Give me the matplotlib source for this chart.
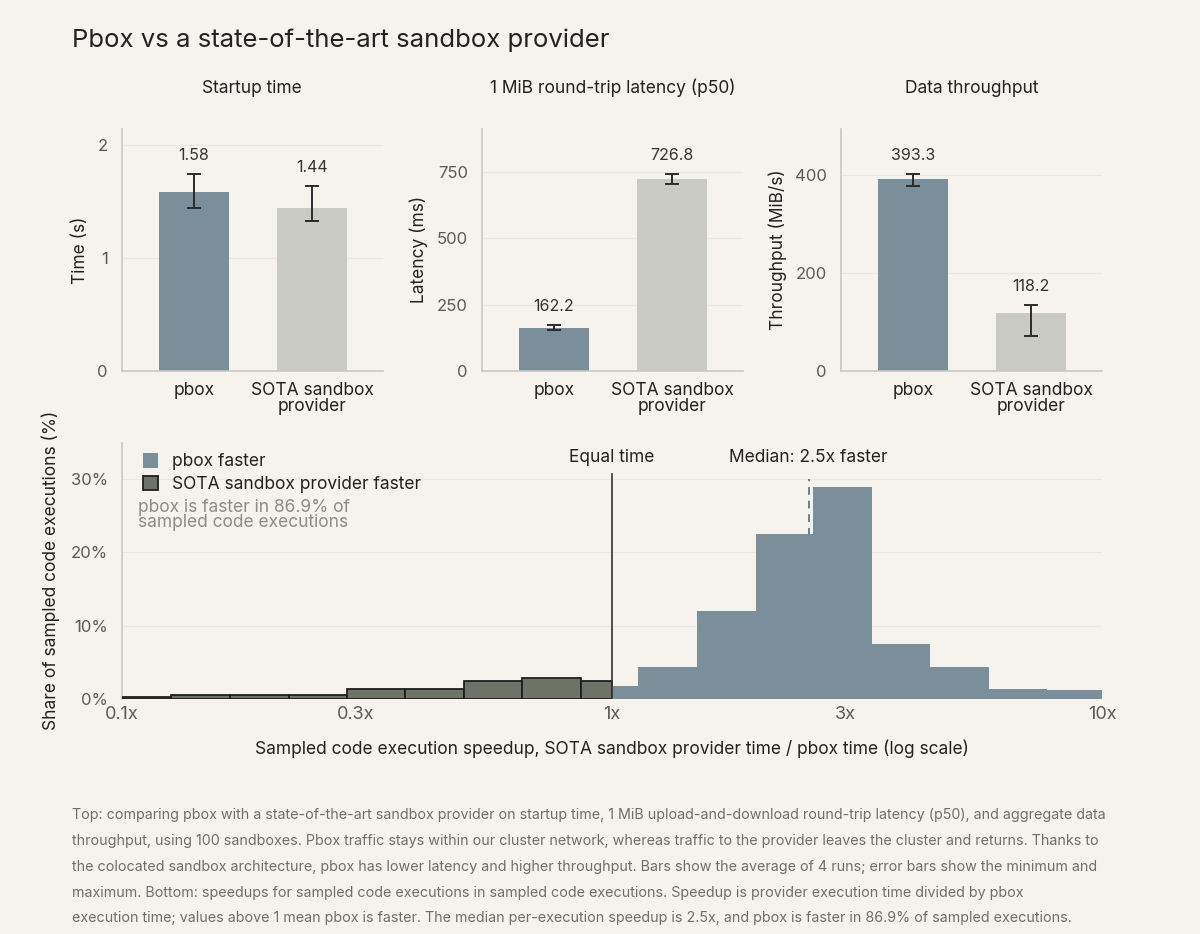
import numpy as np
import matplotlib.pyplot as plt
from matplotlib.patches import Patch

plt.rcParams['font.family'] = ['Inter', 'DejaVu Sans']

bg = '#f6f2ee'
c_pbox = '#7a8f99'
c_sota = '#c9cac1'
c_dark = '#6e7367'
c_text = '#222222'
c_tick = '#5a5a5a'

# ---- top panels data
systems = ['pbox', 'SOTA sandbox\nprovider']
startup = [1.58, 1.44]
startup_min = [1.438, 1.322]
startup_max = [1.745, 1.633]
latency = [162.2, 726.8]
latency_min = [154, 706]
latency_max = [173, 745]
thru = [393.3, 118.2]
thru_min = [377.4, 72.0]
thru_max = [403.4, 134.5]

panels = [
    ('Startup time', 'Time (s)', startup, startup_min, startup_max, [0, 1, 2], '{:.2f}'),
    ('1 MiB round-trip latency (p50)', 'Latency (ms)', latency, latency_min, latency_max, [0, 250, 500, 750], '{:.1f}'),
    ('Data throughput', 'Throughput (MiB/s)', thru, thru_min, thru_max, [0, 200, 400], '{:.1f}'),
]

# ---- histogram data (speedup bin edges, share in %)
bin_edges = [0.096, 0.126, 0.166, 0.219, 0.288, 0.378, 0.498, 0.655, 0.863,
             1.132, 1.489, 1.963, 2.576, 3.396, 4.457, 5.875, 7.727, 10.16]
sota_share = [0.3, 0.45, 0.55, 0.45, 1.35, 1.37, 2.37, 2.9, 2.37]
pbox_share = [1.74, 4.3, 12.0, 22.5, 29.0, 7.5, 4.3, 1.37, 1.14]
median_speedup = 2.52
pct_faster = 86.9

fig = plt.figure(figsize=(12, 9.34), dpi=100)
fig.patch.set_facecolor(bg)

def style(ax):
    ax.set_facecolor(bg)
    for s in ['top', 'right']:
        ax.spines[s].set_visible(False)
    for s in ['left', 'bottom']:
        ax.spines[s].set_color('#c9c7c3')
        ax.spines[s].set_linewidth(1.2)
    ax.tick_params(length=0, colors=c_tick, labelsize=12)
    ax.grid(axis='y', color='#ebe6e0', linewidth=0.8)
    ax.set_axisbelow(True)

lefts = [0.1014, 0.4014, 0.7006]
for i, (title, ylab, vals, lo, hi, yt, fmt) in enumerate(panels):
    ax = fig.add_axes([lefts[i], 0.6031, 0.2178, 0.2588])
    style(ax)
    x = np.arange(len(vals))
    ax.bar(x, vals, width=0.59, color=[c_pbox, c_sota], zorder=2)
    err = [np.array(vals) - np.array(lo), np.array(hi) - np.array(vals)]
    ax.errorbar(x, vals, yerr=err, fmt='none', ecolor='#2b2b2b', elinewidth=1.4,
                capsize=5, capthick=1.4, zorder=3)
    for xi, v, h in zip(x, vals, hi):
        ax.annotate(fmt.format(v), (xi, h), xytext=(0, 8), textcoords='offset points',
                    ha='center', va='bottom', fontsize=11.5, color='#333333')
    ax.set_xlim(-0.61, 1.6)
    ax.set_ylim(0, max(hi) * 1.227)
    ax.set_yticks(yt)
    ax.set_xticks(x)
    ax.set_xticklabels(systems, color=c_text, fontsize=12.5, linespacing=0.9)
    ax.tick_params(axis='x', pad=8)
    ax.tick_params(axis='y', pad=10)
    ax.set_ylabel(ylab, fontsize=12.5, color=c_text, labelpad=6)
    ax.set_title(title, fontsize=12.5, color=c_text, pad=26)

# ---- histogram
ax = fig.add_axes([0.1017, 0.2519, 0.8167, 0.2741])
style(ax)
ax.set_xscale('log')
edges = np.array(bin_edges)
n_sota = len(sota_share)
sl = edges[:n_sota].copy()
sr = edges[1:n_sota + 1].copy()
sr[-1] = 1.0
ax.bar(sl, sota_share, width=sr - sl, align='edge', color=c_dark,
       edgecolor='#1f1f1f', linewidth=1.3, zorder=3)
pl = edges[n_sota - 1:-1].copy()
pl[0] = 1.0
pr = edges[n_sota:]
ax.bar(pl, pbox_share, width=pr - pl, align='edge', color=c_pbox,
       linewidth=0, zorder=3)
ax.axvline(1.0, ymin=0, ymax=30.7 / 35, color='#333333', linewidth=1.2, zorder=4)
ax.axvline(median_speedup, ymin=0, ymax=30.0 / 35, color='#6f7f8a', linewidth=1.4,
           linestyle=(0, (4, 3)), zorder=2)
ax.text(1.0, 33.0, 'Equal time', ha='center', va='center', fontsize=12.5, color=c_text)
ax.text(median_speedup, 33.0, 'Median: %.1fx faster' % round(median_speedup, 1),
        ha='center', va='center', fontsize=12.5, color=c_text)
ax.set_xlim(0.1, 10)
ax.set_ylim(0, 35)
ax.set_xticks([0.1, 0.3, 1, 3, 10])
ax.set_xticklabels(['0.1x', '0.3x', '1x', '3x', '10x'])
ax.xaxis.set_minor_locator(plt.NullLocator())
ax.set_yticks([0, 10, 20, 30])
ax.set_yticklabels(['0%', '10%', '20%', '30%'])
ax.tick_params(axis='x', pad=5, labelsize=13)
ax.tick_params(axis='y', pad=10)
ax.spines['bottom'].set_visible(False)
ax.set_xlabel('Sampled code execution speedup, SOTA sandbox provider time / pbox time (log scale)',
              fontsize=12.5, color=c_text, labelpad=12)
ax.set_ylabel('Share of sampled code executions (%)', fontsize=12.5, color=c_text, labelpad=8)
handles = [Patch(facecolor=c_pbox, edgecolor='none', label='pbox faster'),
           Patch(facecolor=c_dark, edgecolor='#1f1f1f', linewidth=1.3,
                 label='SOTA sandbox provider faster')]
ax.legend(handles=handles, loc='upper left', bbox_to_anchor=(0.005, 1.02), frameon=False,
          fontsize=12.5, handlelength=0.9, handleheight=0.9, handletextpad=0.8,
          labelspacing=0.3, labelcolor=c_text)
ax.text(0.016, 0.78, 'pbox is faster in %.1f%% of\nsampled code executions' % pct_faster,
        transform=ax.transAxes, ha='left', va='top', fontsize=12.5, color='#8c8c8c',
        linespacing=0.85)

fig.text(0.06, 0.957, 'Pbox vs a state-of-the-art sandbox provider', fontsize=18.5,
         color=c_text, va='center', ha='left')

caption = ('Top: comparing pbox with a state-of-the-art sandbox provider on startup time, '
           '1 MiB upload-and-download round-trip latency (p50), and aggregate data\n'
           'throughput, using 100 sandboxes. Pbox traffic stays within our cluster network, '
           'whereas traffic to the provider leaves the cluster and returns. Thanks to\n'
           'the colocated sandbox architecture, pbox has lower latency and higher throughput. '
           'Bars show the average of 4 runs; error bars show the minimum and\n'
           'maximum. Bottom: speedups for sampled code executions in sampled code executions. '
           'Speedup is provider execution time divided by pbox\n'
           'execution time; values above 1 mean pbox is faster. The median per-execution '
           'speedup is 2.5x, and pbox is faster in 86.9% of sampled executions.')
fig.text(0.06, 0.135, caption, fontsize=10.3, color='#6e6e6e', va='top', ha='left',
         linespacing=2.08)

fig.savefig('out.png', dpi=100, facecolor=bg)
